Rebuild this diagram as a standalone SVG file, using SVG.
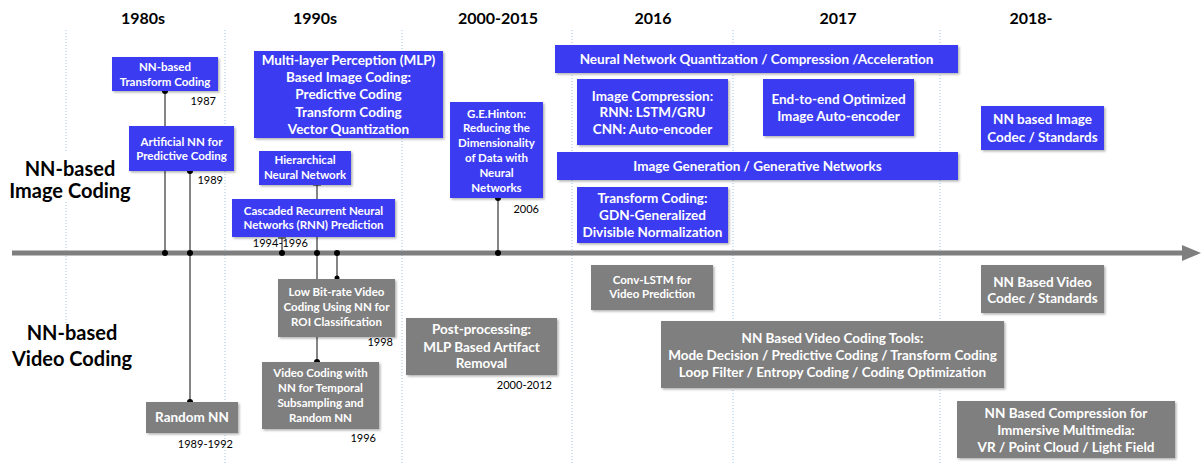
<svg xmlns="http://www.w3.org/2000/svg" width="1201" height="465" viewBox="0 0 1201 465">
<style>
.hdr{font-family:Lato,"Liberation Sans",sans-serif;font-weight:bold;font-size:16px;fill:#000;text-anchor:middle}
.lbl{font-family:Lato,"Liberation Sans",sans-serif;font-weight:bold;font-size:20px;fill:#000;text-anchor:middle}
.yr{font-family:Lato,"Liberation Sans",sans-serif;font-size:11px;fill:#000;text-anchor:end}
.bt{font-family:Lato,"Liberation Sans",sans-serif;font-weight:bold;fill:#fff;text-anchor:middle}
.s11{font-size:11.5px}.s13{font-size:13.5px}.s14{font-size:13.5px}
.blue{fill:#3b3bf2}.gray{fill:#7f7f7f}
.grid{stroke:#9dc3e6;stroke-width:1;stroke-dasharray:1 2;fill:none}
.con{stroke:#333;stroke-width:1.2;fill:none}
.dot{fill:#000}
</style>
<defs>
<filter id="sh" x="-10%" y="-10%" width="130%" height="140%"><feDropShadow dx="1.5" dy="1.5" stdDeviation="1.2" flood-color="#000" flood-opacity="0.3"/></filter>
</defs>
<rect width="1201" height="465" fill="#fff"/>
<g id="grid">
<line class="grid" x1="66" y1="30" x2="66" y2="153"/>
<line class="grid" x1="66" y1="202" x2="66" y2="323"/>
<line class="grid" x1="225" y1="30" x2="225" y2="465"/>
<line class="grid" x1="402" y1="30" x2="402" y2="465"/>
<line class="grid" x1="572" y1="30" x2="572" y2="465"/>
<line class="grid" x1="733" y1="30" x2="733" y2="465"/>
<line class="grid" x1="940" y1="30" x2="940" y2="465"/>
</g>
<g id="headers">
<text class="hdr" x="143" y="24">1980s</text>
<text class="hdr" x="315" y="24">1990s</text>
<text class="hdr" x="498" y="24">2000-2015</text>
<text class="hdr" x="653" y="24">2016</text>
<text class="hdr" x="838" y="24">2017</text>
<text class="hdr" x="1031" y="24">2018-</text>
</g>
<g id="labels">
<text class="lbl" x="70" y="176">NN-based</text>
<text class="lbl" x="70" y="198">Image Coding</text>
<text class="lbl" x="72" y="340">NN-based</text>
<text class="lbl" x="72" y="366">Video Coding</text>
</g>
<g id="axis">
<line x1="12" y1="253" x2="1185" y2="253" stroke="#7f7f7f" stroke-width="5"/>
<polygon points="1182,245 1201,253 1182,261" fill="#7f7f7f"/>
</g>
<g id="connectors">
<line class="con" x1="165" y1="91" x2="165" y2="253"/>
<line class="con" x1="190" y1="171" x2="190" y2="402"/>
<line class="con" x1="282" y1="238" x2="282" y2="253"/>
<line class="con" x1="278" y1="238" x2="286" y2="238"/>
<line class="con" x1="317" y1="185" x2="317" y2="362"/>
<line class="con" x1="313" y1="185" x2="321" y2="185"/>
<line class="con" x1="337" y1="253" x2="337" y2="279"/>
<line class="con" x1="498" y1="198" x2="498" y2="253"/>
<circle class="dot" cx="165" cy="91" r="3"/>
<circle class="dot" cx="190" cy="171" r="3"/>
<circle class="dot" cx="190" cy="402" r="3"/>
<circle class="dot" cx="498" cy="198" r="3"/>
<circle class="dot" cx="317" cy="362" r="3"/>
<circle class="dot" cx="337" cy="278" r="2.5"/>
<circle class="dot" cx="165" cy="253" r="3"/>
<circle class="dot" cx="190" cy="253" r="3"/>
<circle class="dot" cx="282" cy="253" r="3"/>
<circle class="dot" cx="317" cy="253" r="3"/>
<circle class="dot" cx="337" cy="253" r="3"/>
<circle class="dot" cx="498" cy="253" r="3"/>
</g>
<g id="n-transform1987"><rect class="blue" filter="url(#sh)" x="112" y="57" width="106" height="34"/>
<text class="bt s11" x="165" y="71">NN-based</text><text class="bt s11" x="165" y="86">Transform Coding</text></g>
<text class="yr" x="216" y="105">1987</text>
<g id="n-ann1989"><rect class="blue" filter="url(#sh)" x="129" y="126" width="105" height="45"/>
<text class="bt s11" x="181.5" y="146">Artificial NN for</text><text class="bt s11" x="181.5" y="160">Predictive Coding</text></g>
<text class="yr" x="223" y="184">1989</text>
<g id="n-mlp"><rect class="blue" filter="url(#sh)" x="254" y="51" width="189" height="87"/>
<text class="bt s13" x="348.5" y="65">Multi-layer Perception (MLP)</text>
<text class="bt s13" x="348.5" y="82">Based Image Coding:</text>
<text class="bt s13" x="348.5" y="99">Predictive Coding</text>
<text class="bt s13" x="348.5" y="117">Transform Coding</text>
<text class="bt s13" x="348.5" y="134">Vector Quantization</text></g>
<g id="n-hier"><rect class="blue" filter="url(#sh)" x="259" y="151" width="92" height="34"/>
<text class="bt s11" x="305" y="164">Hierarchical</text><text class="bt s11" x="305" y="179">Neural Network</text></g>
<g id="n-cascaded"><rect class="blue" filter="url(#sh)" x="232" y="199" width="163" height="38"/>
<text class="bt s11" x="313.5" y="215">Cascaded Recurrent Neural</text><text class="bt s11" x="313.5" y="229">Networks (RNN) Prediction</text></g>
<text class="yr" x="308" y="247">1994-1996</text>
<g id="n-hinton"><rect class="blue" filter="url(#sh)" x="450" y="102" width="93" height="96"/>
<text class="bt s11" x="496.5" y="118">G.E.Hinton:</text>
<text class="bt s11" x="496.5" y="132">Reducing the</text>
<text class="bt s11" x="496.5" y="147">Dimensionality</text>
<text class="bt s11" x="496.5" y="162">of Data with</text>
<text class="bt s11" x="496.5" y="177">Neural</text>
<text class="bt s11" x="496.5" y="192">Networks</text></g>
<text class="yr" x="539" y="213">2006</text>
<g id="n-quant"><rect class="blue" filter="url(#sh)" x="555" y="45" width="403" height="28"/>
<text class="bt s13" x="756.5" y="64">Neural Network Quantization / Compression /Acceleration</text></g>
<g id="n-imgcomp"><rect class="blue" filter="url(#sh)" x="577" y="79" width="151" height="66"/>
<text class="bt s13" x="652.5" y="101">Image Compression:</text>
<text class="bt s13" x="652.5" y="117">RNN: LSTM/GRU</text>
<text class="bt s13" x="652.5" y="134">CNN: Auto-encoder</text></g>
<g id="n-e2e"><rect class="blue" filter="url(#sh)" x="763" y="79" width="151" height="57"/>
<text class="bt s13" x="838.5" y="104">End-to-end Optimized</text>
<text class="bt s13" x="838.5" y="121">Image Auto-encoder</text></g>
<g id="n-gen"><rect class="blue" filter="url(#sh)" x="557" y="152" width="401" height="28"/>
<text class="bt s13" x="757.5" y="171">Image Generation / Generative Networks</text></g>
<g id="n-gdn"><rect class="blue" filter="url(#sh)" x="577" y="187" width="151" height="56"/>
<text class="bt s13" x="652.5" y="203">Transform Coding:</text>
<text class="bt s13" x="652.5" y="220">GDN-Generalized</text>
<text class="bt s13" x="652.5" y="237">Divisible Normalization</text></g>
<g id="n-imgcodec"><rect class="blue" filter="url(#sh)" x="981" y="106" width="123" height="44"/>
<text class="bt s13" x="1042.5" y="124">NN based Image</text>
<text class="bt s13" x="1042.5" y="142">Codec / Standards</text></g>
<g id="n-random"><rect class="gray" filter="url(#sh)" x="146" y="402" width="92" height="31"/>
<text class="bt s13" x="192" y="422">Random NN</text></g>
<text class="yr" x="233" y="448">1989-1992</text>
<g id="n-lowbit"><rect class="gray" filter="url(#sh)" x="278" y="279" width="117" height="58"/>
<text class="bt s11" x="336.5" y="296">Low Bit-rate Video</text>
<text class="bt s11" x="336.5" y="311">Coding Using NN for</text>
<text class="bt s11" x="336.5" y="326">ROI Classification</text></g>
<text class="yr" x="393" y="346">1998</text>
<g id="n-temporal"><rect class="gray" filter="url(#sh)" x="262" y="362" width="117" height="67"/>
<text class="bt s11" x="320.5" y="377">Video Coding with</text>
<text class="bt s11" x="320.5" y="392">NN for Temporal</text>
<text class="bt s11" x="320.5" y="407">Subsampling and</text>
<text class="bt s11" x="320.5" y="422">Random NN</text></g>
<text class="yr" x="376" y="442">1996</text>
<g id="n-post"><rect class="gray" filter="url(#sh)" x="406" y="318" width="151" height="57"/>
<text class="bt s14" x="481.5" y="334">Post-processing:</text>
<text class="bt s14" x="481.5" y="352">MLP Based Artifact</text>
<text class="bt s14" x="481.5" y="368">Removal</text></g>
<text class="yr" x="552" y="389">2000-2012</text>
<g id="n-convlstm"><rect class="gray" filter="url(#sh)" x="591" y="265" width="122" height="45"/>
<text class="bt s11" x="652" y="284">Conv-LSTM for</text>
<text class="bt s11" x="652" y="298">Video Prediction</text></g>
<g id="n-vidcodec"><rect class="gray" filter="url(#sh)" x="981" y="265" width="123" height="48"/>
<text class="bt s13" x="1042.5" y="287">NN Based Video</text>
<text class="bt s13" x="1042.5" y="303">Codec / Standards</text></g>
<g id="n-tools"><rect class="gray" filter="url(#sh)" x="661" y="321" width="343" height="67"/>
<text class="bt s14" x="832.5" y="343">NN Based Video Coding Tools:</text>
<text class="bt s14" x="832.5" y="360">Mode Decision / Predictive Coding / Transform Coding</text>
<text class="bt s14" x="832.5" y="377">Loop Filter / Entropy Coding / Coding Optimization</text></g>
<g id="n-immersive"><rect class="gray" filter="url(#sh)" x="957" y="401" width="218" height="57"/>
<text class="bt s13" x="1066" y="418">NN Based Compression for</text>
<text class="bt s13" x="1066" y="435">Immersive Multimedia:</text>
<text class="bt s13" x="1066" y="452">VR / Point Cloud / Light Field</text></g>
</svg>
